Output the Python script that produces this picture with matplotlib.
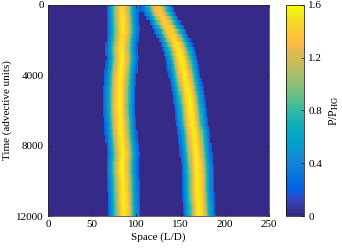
import numpy as np
import matplotlib
matplotlib.use("Agg")
import matplotlib.pyplot as plt
from matplotlib.colors import ListedColormap

plt.rcParams['font.family'] = ['Liberation Serif', 'DejaVu Serif']
plt.rcParams['mathtext.fontset'] = 'stix'

# ---- data ----
times = np.arange(0, 12001, 250)  # sampled time rows (advective units)
band1_center = [84, 84, 84, 84.5, 84.5, 85, 85, 84.5, 84, 83.5, 83, 83.5, 84, 83.5, 83, 82.5,
                82, 81.5, 81.5, 81, 81, 81, 81, 80.5, 81, 81, 81.5, 82, 82, 82.5, 83, 83.5,
                84, 84.5, 85, 84.5, 84, 84, 84, 84.5, 85, 85, 85, 85.5, 85.5, 85.5, 86, 86, 86]
band2_center = [123, 125, 127, 130, 132.5, 135.5, 138.5, 141, 143, 145.5, 147.5, 149, 150.5,
                151.5, 152.5, 153.5, 154.5, 155.5, 156.5, 157.5, 158.5, 159.5, 160, 161, 161.5,
                162, 162.5, 163, 164, 165, 165.5, 166, 166.5, 167, 167.5, 168, 168.5, 169, 169,
                169.5, 169.5, 169.5, 169.5, 170, 170, 170.5, 171, 171, 171.5]
band1_peak = [1.45, 1.47, 1.5, 1.52, 1.53, 1.53, 1.52, 1.5, 1.5, 1.52, 1.53, 1.55, 1.55, 1.55,
              1.55, 1.55, 1.55, 1.55, 1.55, 1.55, 1.55, 1.55, 1.55, 1.55, 1.55, 1.55, 1.55,
              1.55, 1.55, 1.55, 1.55, 1.55, 1.55, 1.55, 1.55, 1.55, 1.57, 1.57, 1.57, 1.55,
              1.55, 1.55, 1.55, 1.55, 1.55, 1.55, 1.55, 1.55, 1.55]
band2_peak = [1.36, 1.38, 1.4, 1.42, 1.43, 1.45, 1.47, 1.48, 1.5, 1.52, 1.53, 1.54, 1.55, 1.55,
              1.55, 1.55, 1.55, 1.55, 1.55, 1.55, 1.55, 1.55, 1.55, 1.55, 1.55, 1.55, 1.55,
              1.55, 1.55, 1.55, 1.55, 1.55, 1.55, 1.55, 1.55, 1.55, 1.55, 1.55, 1.55, 1.55,
              1.55, 1.55, 1.55, 1.55, 1.55, 1.55, 1.55, 1.55, 1.55]
band_sigma = 9.0       # band half-width scale (L/D)
band_cutoff = 0.2      # values below are drawn as background
x_ticks = [0, 50, 100, 150, 200, 250]
t_ticks = [0, 4000, 8000, 12000]
c_ticks = [0, 0.4, 0.8, 1.2, 1.6]

assert len(band1_center) == len(times) == len(band2_center) == len(band1_peak) == len(band2_peak)

# parula colormap (64 entries)
parula = [
[0.2081,0.1663,0.5292],[0.2116,0.1898,0.5777],[0.2123,0.2138,0.6270],[0.2081,0.2386,0.6771],
[0.1959,0.2645,0.7279],[0.1707,0.2919,0.7792],[0.1253,0.3242,0.8303],[0.0591,0.3598,0.8683],
[0.0117,0.3875,0.8820],[0.0060,0.4086,0.8828],[0.0165,0.4266,0.8786],[0.0329,0.4430,0.8720],
[0.0498,0.4586,0.8641],[0.0629,0.4737,0.8554],[0.0723,0.4887,0.8467],[0.0779,0.5040,0.8384],
[0.0793,0.5200,0.8312],[0.0749,0.5375,0.8263],[0.0641,0.5570,0.8240],[0.0488,0.5772,0.8228],
[0.0343,0.5966,0.8199],[0.0265,0.6137,0.8135],[0.0239,0.6287,0.8038],[0.0231,0.6418,0.7913],
[0.0228,0.6535,0.7768],[0.0267,0.6642,0.7607],[0.0384,0.6743,0.7436],[0.0590,0.6838,0.7254],
[0.0843,0.6928,0.7062],[0.1133,0.7015,0.6859],[0.1453,0.7098,0.6646],[0.1801,0.7177,0.6424],
[0.2178,0.7250,0.6193],[0.2586,0.7317,0.5954],[0.3022,0.7376,0.5712],[0.3482,0.7424,0.5473],
[0.3953,0.7459,0.5244],[0.4420,0.7481,0.5033],[0.4871,0.7491,0.4840],[0.5300,0.7491,0.4661],
[0.5709,0.7485,0.4494],[0.6099,0.7473,0.4337],[0.6473,0.7456,0.4188],[0.6834,0.7435,0.4044],
[0.7184,0.7411,0.3905],[0.7525,0.7384,0.3768],[0.7858,0.7356,0.3633],[0.8185,0.7327,0.3498],
[0.8507,0.7299,0.3360],[0.8824,0.7274,0.3217],[0.9139,0.7258,0.3063],[0.9450,0.7261,0.2886],
[0.9739,0.7314,0.2666],[0.9938,0.7455,0.2403],[0.9990,0.7653,0.2164],[0.9955,0.7861,0.1967],
[0.9880,0.8066,0.1794],[0.9789,0.8271,0.1633],[0.9697,0.8481,0.1475],[0.9626,0.8705,0.1309],
[0.9589,0.8949,0.1132],[0.9598,0.9218,0.0948],[0.9661,0.9514,0.0755],[0.9763,0.9831,0.0538]]
cmap = ListedColormap(parula, name='parula')

# ---- build the field ----
dx = 1.25
x_edges = np.arange(0, 250 + dx, dx)
x_mid = 0.5 * (x_edges[:-1] + x_edges[1:])
dt = times[1] - times[0]
t_edges = np.concatenate([times - dt / 2, [times[-1] + dt / 2]])

c1 = np.asarray(band1_center)[:, None]
c2 = np.asarray(band2_center)[:, None]
p1 = np.asarray(band1_peak)[:, None]
p2 = np.asarray(band2_peak)[:, None]
field = (p1 * np.exp(-(x_mid[None, :] - c1) ** 2 / (2 * band_sigma ** 2)) +
         p2 * np.exp(-(x_mid[None, :] - c2) ** 2 / (2 * band_sigma ** 2)))
field[field < band_cutoff] = 0.0

fig = plt.figure(figsize=(3.42, 2.49), dpi=100)
ax = fig.add_axes([48 / 342, 1 - 216 / 249, 221 / 342, 211 / 249])
cax = fig.add_axes([286 / 342, 1 - 216 / 249, 18 / 342, 211 / 249])

mesh = ax.pcolormesh(x_edges, t_edges, field, cmap=cmap, vmin=0, vmax=1.6, shading='flat',
                     rasterized=True)
ax.set_xlim(0, 250)
ax.set_ylim(12000, 0)
ax.set_xticks(x_ticks)
ax.set_yticks(t_ticks)
ax.tick_params(direction='in', length=2.5, width=0.5, labelsize=8, top=True, right=True,
               color='#262626', pad=3)
for s in ax.spines.values():
    s.set_linewidth(0.5)
    s.set_color('#262626')
ax.set_xlabel('Space (L/D)', fontsize=8, labelpad=2)
ax.set_ylabel('Time (advective units)', fontsize=8, labelpad=3)

cb = fig.colorbar(mesh, cax=cax, ticks=c_ticks)
cb.ax.tick_params(direction='in', length=2.5, width=0.5, labelsize=8, color='#262626', pad=3)
cb.ax.set_yticklabels(['0', '0.4', '0.8', '1.2', '1.6'])
cb.outline.set_linewidth(0.5)
cb.set_label(r'P/P$_{\mathrm{HG}}$', fontsize=8.5, labelpad=4)

fig.savefig('out.png', dpi=100)
